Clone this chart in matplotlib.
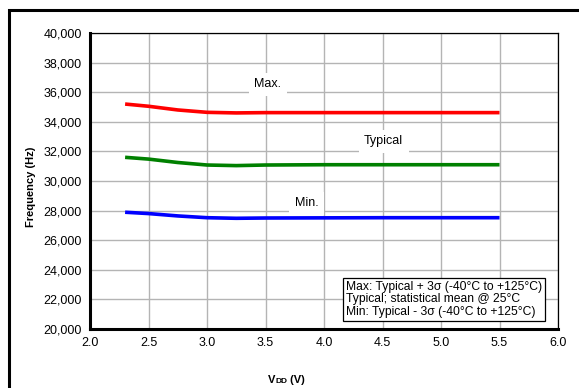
import matplotlib
matplotlib.use("Agg")
import matplotlib.pyplot as plt
from matplotlib.patches import Rectangle

vdd = [2.3, 2.5, 2.75, 3.0, 3.25, 3.5, 4.0, 4.5, 5.0, 5.5]
f_max = [35200, 35050, 34800, 34640, 34600, 34620, 34620, 34620, 34620, 34620]
f_typ = [31600, 31480, 31250, 31080, 31040, 31080, 31100, 31100, 31100, 31100]
f_min = [27890, 27800, 27640, 27520, 27480, 27500, 27510, 27520, 27520, 27520]

xticks = [2.0, 2.5, 3.0, 3.5, 4.0, 4.5, 5.0, 5.5, 6.0]
yticks = list(range(20000, 40001, 2000))

plt.rcParams['font.family'] = ['Liberation Sans', 'DejaVu Sans']

fig = plt.figure(figsize=(5.79, 3.88), dpi=100)
fig.patches.append(Rectangle((9/579, -0.1), 1.2, 1 - 10/388 + 0.1, transform=fig.transFigure,
                             fill=False, edgecolor='black', linewidth=2.2, zorder=0))

ax = fig.add_axes([90/579, 1 - 329/388, (558 - 90)/579, (329 - 33)/388])
ax.set_xlim(2.0, 6.0)
ax.set_ylim(20000, 40000)
ax.set_xticks(xticks)
ax.set_yticks(yticks)
ax.set_xticklabels([f"{v:.1f}" for v in xticks], fontsize=9)
ax.set_yticklabels([f"{v:,}" for v in yticks], fontsize=9)
ax.tick_params(length=0, pad=6)
ax.grid(True, color='#b4b4b4', linewidth=1.0)
ax.set_axisbelow(True)
for s in ['left', 'bottom']:
    ax.spines[s].set_linewidth(2.2)
for s in ['top', 'right']:
    ax.spines[s].set_linewidth(0.9)

ax.plot(vdd, f_max, color='#ff0000', linewidth=2.6, solid_capstyle='butt', zorder=3)
ax.plot(vdd, f_typ, color='#008000', linewidth=2.6, solid_capstyle='butt', zorder=3)
ax.plot(vdd, f_min, color='#0000ff', linewidth=2.6, solid_capstyle='butt', zorder=3)

bb = dict(facecolor='white', edgecolor='none', pad=4)
ax.text(3.52, 36550, "Max.", fontsize=9, ha='center', va='center', bbox=bb, zorder=4)
ax.text(4.51, 32700, "Typical", fontsize=9, ha='center', va='center', bbox=bb, zorder=4)
ax.text(3.85, 28500, "Min.", fontsize=9, ha='center', va='center', bbox=bb, zorder=4)

ax.text(4.19, 20760,
        "Max: Typical + 3σ (-40°C to +125°C)\nTypical; statistical mean @ 25°C\nMin: Typical - 3σ (-40°C to +125°C)",
        fontsize=8.7, ha='left', va='bottom', linespacing=1.05, zorder=5,
        bbox=dict(facecolor='white', edgecolor='black', linewidth=0.9, pad=2))

fig.text(31/579, 1 - 187/388, "Frequency (Hz)", rotation=90, fontsize=8, fontweight='bold',
         ha='center', va='center')

t1 = fig.text(268/579, 1 - 385/388, "V", fontsize=8, fontweight='bold', ha='left', va='bottom')
t2 = ax.annotate("DD", xy=(1, 0), xycoords=t1, fontsize=6, fontweight='bold', ha='left', va='bottom',
                 annotation_clip=False)
ax.annotate(" (V)", xy=(1, 0), xycoords=t2, fontsize=8, fontweight='bold', ha='left', va='bottom',
            annotation_clip=False)

fig.savefig("out.png", dpi=100)
